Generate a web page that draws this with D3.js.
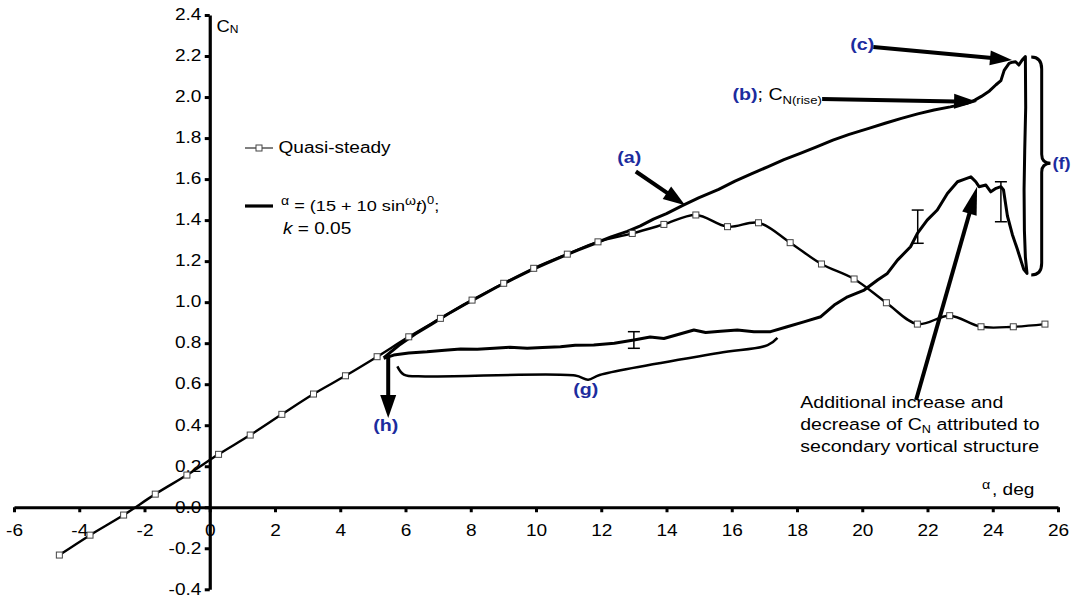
<!DOCTYPE html>
<html><head><meta charset="utf-8">
<script src="https://cdn.jsdelivr.net/npm/d3@7"></script>
<style>body{margin:0;background:#fff;} svg{display:block;}</style>
</head><body><svg id="c" width="1073" height="597"></svg>
<script>
// ---------- data ----------
const xTicks = [-6,-4,-2,0,2,4,6,8,10,12,14,16,18,20,22,24,26];
const xTickLabels = ["-6","-4","-2","0","2","4","6","8","10","12","14","16","18","20","22","24","26"];
const yTicks = [-0.4,-0.2,0,0.2,0.4,0.6,0.8,1.0,1.2,1.4,1.6,1.8,2.0,2.2,2.4];
const yTickLabels = ["-0.4","-0.2","0.0","0.2","0.4","0.6","0.8","1.0","1.2","1.4","1.6","1.8","2.0","2.2","2.4"];

// Quasi-steady
const qsAlpha = [-4.61,-3.67,-2.64,-1.67,-0.70,0.27,1.24,2.21,3.18,4.16,5.13,6.10,7.07,8.04,9.01,9.93,10.96,11.90,12.95,13.92,14.90,15.87,16.82,17.79,18.75,19.75,20.74,21.69,22.68,23.64,24.63,25.60];
const qsCN    = [-0.233,-0.136,-0.038,0.064,0.157,0.258,0.352,0.453,0.552,0.641,0.734,0.831,0.921,1.010,1.092,1.165,1.234,1.294,1.335,1.379,1.425,1.368,1.387,1.290,1.186,1.113,0.997,0.893,0.934,0.880,0.880,0.893];

// Dynamic: alpha = (15 + 10 sin wt), k = 0.05 (upstroke then downstroke)
const dynAlpha = [5.33,5.8,6.3,6.8,7.3,7.8,8.3,8.8,9.3,9.8,10.3,10.8,11.3,11.8,12.3,12.8,13.2,13.6,14.0,14.5,15.0,15.6,16.1,16.6,17.1,17.6,18.1,18.6,19.1,19.6,20.2,20.7,21.2,21.7,22.2,22.7,23.2,23.45,23.65,23.9,24.1,24.25,24.35,24.5,24.6,24.7,24.8,24.9,25.0,
  25.01,24.98,24.96,24.97,25.0,25.05,24.95,24.75,24.6,24.45,24.33,24.25,24.1,23.94,23.79,23.58,23.48,23.33,23.12,22.92,22.61,22.3,21.99,21.69,21.48,21.08,20.77,20.47,20.06,19.55,19.14,18.73,18.21,17.7,17.19,16.68,16.17,15.66,15.2,14.84,14.3,13.92,13.5,13.0,12.4,11.77,11.2,10.75,10.2,9.73,9.2,8.71,8.2,7.69,7.2,6.66,6.1,5.64,5.33];
const dynCN = [0.728,0.790,0.845,0.893,0.942,0.988,1.030,1.074,1.113,1.152,1.188,1.222,1.255,1.286,1.318,1.345,1.372,1.405,1.432,1.472,1.510,1.550,1.590,1.625,1.660,1.695,1.725,1.757,1.790,1.818,1.847,1.872,1.896,1.918,1.937,1.952,1.969,1.985,2.003,2.030,2.060,2.080,2.130,2.164,2.170,2.172,2.156,2.180,2.197,
  1.950,1.740,1.550,1.350,1.220,1.140,1.160,1.260,1.330,1.420,1.547,1.563,1.555,1.538,1.571,1.563,1.587,1.611,1.599,1.587,1.530,1.449,1.400,1.335,1.270,1.205,1.140,1.108,1.059,1.026,0.986,0.929,0.904,0.880,0.856,0.856,0.864,0.858,0.852,0.864,0.840,0.823,0.830,0.815,0.800,0.791,0.790,0.783,0.779,0.775,0.780,0.775,0.770,0.772,0.766,0.758,0.752,0.742,0.726];

// Error bars
const errAlpha = [13.0, 21.7, 24.25];
const errLow   = [0.775, 1.287, 1.392];
const errHigh  = [0.856, 1.449, 1.587];

// ---------- setup ----------
const svg = d3.select("#c");
const FONT = '"Liberation Sans", Arial, sans-serif';
const BLUE = "#1c2c9e";
const x = d3.scaleLinear().domain([-6, 26]).range([14, 1058]);
const y = d3.scaleLinear().domain([-0.4, 2.4]).range([589.3, 15]);

function txt(g, px, py, parts, o = {}) {
  const t = g.append("text")
    .attr("transform", `translate(${px},${py}) scale(${o.sx || 1.19},1)`)
    .attr("font-family", FONT).attr("font-size", o.size || 16)
    .attr("fill", o.fill || "#000").attr("text-anchor", o.anchor || "start")
    .attr("font-weight", o.bold ? "bold" : "normal");
  parts.forEach(p => {
    if (typeof p === "string") p = {t: p};
    const s = t.append("tspan").text(p.t);
    if (p.size) s.attr("font-size", p.size);
    if (p.dy) s.attr("dy", p.dy);
    if (p.italic) s.attr("font-style", "italic");
    if (p.fill) s.attr("fill", p.fill);
    if (p.bold) s.attr("font-weight", "bold");
    if (p.normal) s.attr("font-weight", "normal");
  });
  return t;
}

// ---------- axes ----------
const gx = svg.append("g").attr("transform", `translate(0,${y(0)})`)
  .call(d3.axisBottom(x).tickValues(xTicks).tickFormat((d, i) => xTickLabels[i])
    .tickSize(5).tickSizeOuter(0).tickPadding(12));
const gy = svg.append("g").attr("transform", `translate(${x(0)},0)`)
  .call(d3.axisLeft(y).tickValues(yTicks).tickFormat((d, i) => yTickLabels[i])
    .tickSize(5).tickSizeOuter(0).tickPadding(2));
[gx, gy].forEach(g => {
  g.select(".domain").attr("stroke", "#000").attr("stroke-width", 3.2);
  g.selectAll(".tick line").attr("stroke", "#000").attr("stroke-width", 3);
  g.selectAll(".tick text").attr("font-family", FONT).attr("font-size", 16)
    .attr("fill", "#000").attr("transform", "scale(1.19,1)");
});
gy.selectAll(".tick text").attr("dy", "0.3em");

// ---------- series ----------
const plot = svg.append("g");
const dynData = dynAlpha.map((a, i) => [a, dynCN[i]]);
const qsData = qsAlpha.map((a, i) => [a, qsCN[i]]);

plot.append("path").datum(dynData)
  .attr("d", d3.line().x(d => x(d[0])).y(d => y(d[1])).curve(d3.curveLinear))
  .attr("fill", "none").attr("stroke", "#000").attr("stroke-width", 3)
  .attr("stroke-linejoin", "round");

plot.append("path").datum(qsData)
  .attr("d", d3.line().x(d => x(d[0])).y(d => y(d[1])).curve(d3.curveCatmullRom.alpha(0.5)))
  .attr("fill", "none").attr("stroke", "#000").attr("stroke-width", 2.4);

plot.selectAll("rect.qs").data(qsData).join("rect").attr("class", "qs")
  .attr("x", d => x(d[0]) - 3).attr("y", d => y(d[1]) - 3)
  .attr("width", 6).attr("height", 6)
  .attr("fill", "#fff").attr("stroke", "#444").attr("stroke-width", 1);

// error bars
errAlpha.forEach((a, i) => {
  const g = plot.append("g").attr("stroke", "#000").attr("stroke-width", 1.5);
  g.append("line").attr("x1", x(a)).attr("x2", x(a)).attr("y1", y(errLow[i])).attr("y2", y(errHigh[i]));
  g.append("line").attr("x1", x(a) - 6).attr("x2", x(a) + 6).attr("y1", y(errLow[i])).attr("y2", y(errLow[i]));
  g.append("line").attr("x1", x(a) - 6).attr("x2", x(a) + 6).attr("y1", y(errHigh[i])).attr("y2", y(errHigh[i]));
});

// ---------- annotations ----------
const ann = svg.append("g");
function arrow(x1, y1, x2, y2, w, hl, hw) {
  const dx = x2 - x1, dy = y2 - y1, L = Math.hypot(dx, dy), ux = dx / L, uy = dy / L;
  const bx = x2 - ux * hl, by = y2 - uy * hl;
  ann.append("line").attr("x1", x1).attr("y1", y1).attr("x2", bx + ux * 2).attr("y2", by + uy * 2)
    .attr("stroke", "#000").attr("stroke-width", w);
  ann.append("path").attr("d", `M${x2},${y2}L${bx - uy * hw / 2},${by + ux * hw / 2}L${bx + uy * hw / 2},${by - ux * hw / 2}Z`)
    .attr("fill", "#000");
}
arrow(x(13.06), y(1.637), x(14.57), y(1.473), 4, 22, 15);   // (a)
arrow(x(18.77), y(1.990), x(23.52), y(1.977), 4, 23, 15);   // (b)
arrow(x(20.34), y(2.244), x(24.59), y(2.181), 4, 22, 15);   // (c)
arrow(x(5.47), y(0.732), x(5.47), y(0.435), 4, 23, 16);     // (h)
arrow(x(21.65), y(0.523), x(23.52), y(1.563), 4, 28, 15);   // secondary structure

// brace (f)
{
  const x0 = x(25.18), xm = x(25.50), xt = x(25.77);
  const yT = y(2.195), yM = y(1.677), yB = y(1.132);
  ann.append("path").attr("d",
    `M${x0},${yT} Q${xm},${yT} ${xm},${yT + 12} L${xm},${yM - 9} Q${xm},${yM} ${xt},${yM} Q${xm},${yM} ${xm},${yM + 9} L${xm},${yB - 12} Q${xm},${yB} ${x0},${yB}`)
    .attr("fill", "none").attr("stroke", "#000").attr("stroke-width", 3);
}
// brace (g)
{
  const gA = [5.75, 5.95, 6.6, 11.2, 11.6, 11.95, 15.6, 17.1, 17.4];
  const gC = [0.687, 0.647, 0.638, 0.642, 0.622, 0.645, 0.752, 0.790, 0.826];
  ann.append("path").datum(gA.map((a, i) => [a, gC[i]]))
    .attr("d", d3.line().x(d => x(d[0])).y(d => y(d[1])).curve(d3.curveCatmullRom.alpha(0.5)))
    .attr("fill", "none").attr("stroke", "#000").attr("stroke-width", 2.5);
}

// labels
txt(ann, x(12.49), y(1.678), ["(a)"], {bold: true, fill: BLUE, size: 16.5});
txt(ann, x(16.02), y(1.986), [{t: "(b)", fill: BLUE}, {t: "; C", normal: true}, {t: "N(rise)", normal: true, size: 11, dy: 4}], {bold: true, size: 16.5});
txt(ann, x(19.63), y(2.229), ["(c)"], {bold: true, fill: BLUE, size: 16.5});
txt(ann, x(25.83), y(1.649), ["(f)"], {bold: true, fill: BLUE, size: 16.5, sx: 1.1});
txt(ann, x(11.14), y(0.547), ["(g)"], {bold: true, fill: BLUE, size: 16.5});
txt(ann, x(5.01), y(0.371), ["(h)"], {bold: true, fill: BLUE, size: 16.5});

txt(ann, x(18.1), y(0.4857), ["Additional increase and"], {size: 17, sx: 1.15});
txt(ann, x(18.1), y(0.379), ["decrease of C", {t: "N", size: 11, dy: 3}, {t: " attributed to", dy: -3}], {size: 17, sx: 1.15});
txt(ann, x(18.1), y(0.2716), ["secondary vortical structure"], {size: 17, sx: 1.15});

// axis titles
txt(svg, 982, 489, ["\u03b1"], {size: 13, sx: 1.1});
txt(svg, 992, 495, [", deg"], {size: 16});
txt(svg, 216.5, 31.5, ["C", {t: "N", size: 10.5, dy: 1}], {size: 16, sx: 1.15});

// ---------- legend ----------
const lg = svg.append("g");
lg.append("line").attr("x1", 245).attr("x2", 273).attr("y1", 148).attr("y2", 148)
  .attr("stroke", "#000").attr("stroke-width", 1);
lg.append("rect").attr("x", 256).attr("y", 145).attr("width", 6).attr("height", 6)
  .attr("fill", "#fff").attr("stroke", "#444").attr("stroke-width", 1);
txt(lg, 278.5, 153, ["Quasi-steady"], {size: 16});

lg.append("line").attr("x1", 245).attr("x2", 273).attr("y1", 206).attr("y2", 206)
  .attr("stroke", "#000").attr("stroke-width", 3.2);
txt(lg, 281, 211, [{t: "\u03b1", size: 12, dy: -6}, {t: " = (15 + 10 sin", dy: 6}, {t: "\u03c9", size: 12, dy: -6}, {t: "t", italic: true, dy: 6}, ")", {t: "0", size: 11, dy: -7}, {t: ";", dy: 7}], {size: 15.5, sx: 1.17});
txt(lg, 283, 234, [{t: "k", italic: true}, " = 0.05"], {size: 16});
</script>
</body></html>
